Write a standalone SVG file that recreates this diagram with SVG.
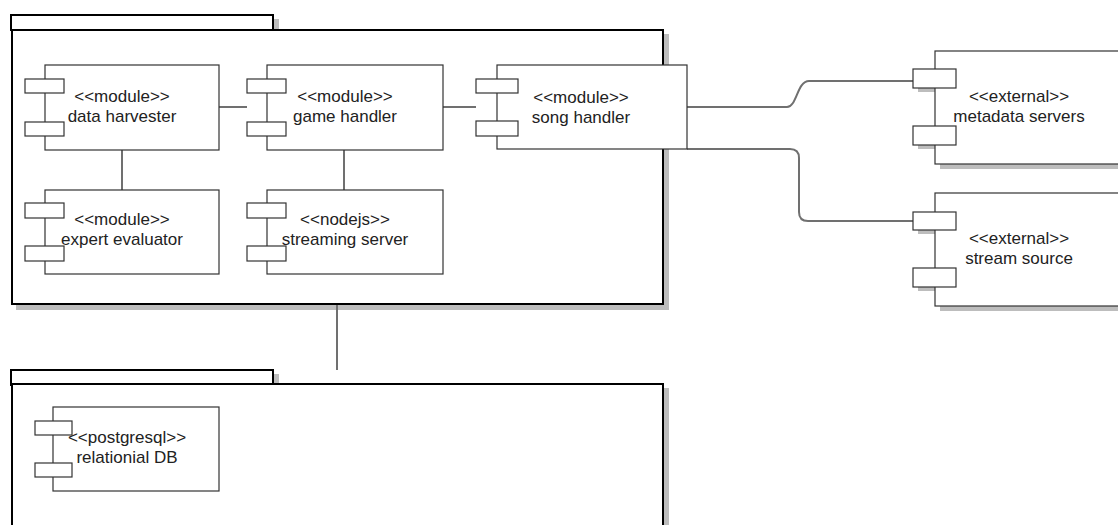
<svg xmlns="http://www.w3.org/2000/svg" width="1118" height="525" viewBox="0 0 1118 525">
  <style>
    .pkg { fill: #ffffff; stroke: #000000; stroke-width: 2; }
    .shd { fill: #bdbdbd; stroke: #bdbdbd; stroke-width: 2; }
    .cmp { fill: #ffffff; stroke: #333333; stroke-width: 1.2; }
    .cshd { fill: #bdbdbd; stroke: none; }
    .lbl { font-family: "Liberation Sans", Arial, sans-serif; font-size: 17px; fill: #222222; text-anchor: middle; }
    .conn { fill: none; stroke: #707070; stroke-width: 2; }
  </style>
  <rect width="1118" height="525" fill="#ffffff"/>

  <g id="package-main">
    <rect class="shd" x="16" y="20" width="262" height="15"/>
    <rect class="shd" x="17" y="35" width="651" height="274"/>
    <rect class="pkg" x="11" y="15" width="262" height="15"/>
    <rect class="pkg" x="12" y="30" width="651" height="274"/>
  </g>

  <g id="package-db">
    <rect class="shd" x="16" y="375" width="262" height="15"/>
    <rect class="shd" x="17" y="389" width="651" height="150"/>
    <rect class="pkg" x="11" y="370" width="262" height="15"/>
    <rect class="pkg" x="12" y="384" width="651" height="150"/>
  </g>

  <g id="connectors">
    <line class="conn" x1="219" y1="107" x2="247" y2="107"/>
    <line class="conn" x1="443" y1="107" x2="476" y2="107"/>
    <line class="conn" x1="122" y1="150" x2="122" y2="190"/>
    <line class="conn" x1="344" y1="150" x2="344" y2="190"/>
    <line class="conn" x1="337" y1="305" x2="337" y2="370"/>
    <path class="conn" d="M687,107 H787 C797,107 797,81 809,81 H913"/>
    <path class="conn" d="M687,149 H790 Q799,149 799,158 V212 Q799,221 808,221 H913"/>
  </g>

  <g id="data-harvester">
    <rect class="cmp" x="45" y="65" width="174" height="85"/>
    <rect class="cmp" x="25" y="79" width="39" height="14"/>
    <rect class="cmp" x="25" y="122" width="39" height="14"/>
    <text class="lbl" x="122" y="102">&lt;&lt;module&gt;&gt;</text>
    <text class="lbl" x="122" y="122">data harvester</text>
  </g>

  <g id="game-handler">
    <rect class="cmp" x="267" y="65" width="176" height="85"/>
    <rect class="cmp" x="247" y="79" width="39" height="14"/>
    <rect class="cmp" x="247" y="122" width="39" height="14"/>
    <text class="lbl" x="345" y="102">&lt;&lt;module&gt;&gt;</text>
    <text class="lbl" x="345" y="122">game handler</text>
  </g>

  <g id="song-handler">
    <rect class="cmp" x="497" y="65" width="190" height="84"/>
    <rect class="cmp" x="476" y="79" width="42" height="14"/>
    <rect class="cmp" x="476" y="121" width="42" height="15"/>
    <text class="lbl" x="581" y="103">&lt;&lt;module&gt;&gt;</text>
    <text class="lbl" x="581" y="123">song handler</text>
  </g>

  <g id="expert-evaluator">
    <rect class="cmp" x="45" y="190" width="174" height="84"/>
    <rect class="cmp" x="25" y="203" width="39" height="15"/>
    <rect class="cmp" x="25" y="246" width="39" height="15"/>
    <text class="lbl" x="122" y="225">&lt;&lt;module&gt;&gt;</text>
    <text class="lbl" x="122" y="245">expert evaluator</text>
  </g>

  <g id="streaming-server">
    <rect class="cmp" x="267" y="190" width="176" height="84"/>
    <rect class="cmp" x="247" y="203" width="39" height="15"/>
    <rect class="cmp" x="247" y="246" width="39" height="15"/>
    <text class="lbl" x="345" y="225">&lt;&lt;nodejs&gt;&gt;</text>
    <text class="lbl" x="345" y="245">streaming server</text>
  </g>

  <g id="relational-db">
    <rect class="cmp" x="53" y="407" width="166" height="84"/>
    <rect class="cmp" x="35" y="421" width="37" height="14"/>
    <rect class="cmp" x="35" y="463" width="37" height="14"/>
    <text class="lbl" x="127" y="443">&lt;&lt;postgresql&gt;&gt;</text>
    <text class="lbl" x="127" y="463">relationial DB</text>
  </g>

  <g id="metadata-servers">
    <rect class="cshd" x="940" y="56" width="190" height="113"/>
    <rect class="cshd" x="918" y="73" width="43" height="19"/>
    <rect class="cshd" x="918" y="130" width="43" height="19"/>
    <rect class="cmp" x="935" y="51" width="190" height="113"/>
    <rect class="cmp" x="913" y="69" width="43" height="19"/>
    <rect class="cmp" x="913" y="126" width="43" height="19"/>
    <text class="lbl" x="1019" y="102">&lt;&lt;external&gt;&gt;</text>
    <text class="lbl" x="1019" y="122">metadata servers</text>
  </g>

  <g id="stream-source">
    <rect class="cshd" x="940" y="198" width="190" height="113"/>
    <rect class="cshd" x="918" y="216" width="43" height="18"/>
    <rect class="cshd" x="918" y="272" width="43" height="19"/>
    <rect class="cmp" x="935" y="193" width="190" height="113"/>
    <rect class="cmp" x="913" y="212" width="43" height="18"/>
    <rect class="cmp" x="913" y="268" width="43" height="19"/>
    <text class="lbl" x="1019" y="244">&lt;&lt;external&gt;&gt;</text>
    <text class="lbl" x="1019" y="264">stream source</text>
  </g>
</svg>
